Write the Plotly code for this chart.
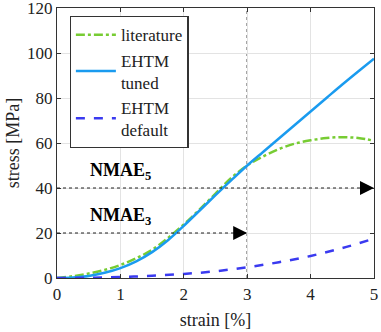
import plotly.graph_objects as go

strain = [0, 0.25, 0.5, 0.75, 1, 1.25, 1.5, 1.75, 2, 2.25, 2.5, 2.75, 3,
          3.25, 3.5, 3.75, 4, 4.25, 4.5, 4.75, 5]
literature = [0, 0.8, 2, 3.6, 5.8, 8.8, 12.5, 17.8, 23.8, 30.5, 37.5, 44.5, 50,
              54, 57.3, 59.7, 61.2, 62.2, 62.6, 62.2, 61]
ehtm_tuned = [0, 0.2, 0.9, 2.3, 4.4, 7.4, 11.5, 16.8, 23.2, 30, 36.8, 43.5, 50,
              56, 62, 68, 74, 80, 86, 91.8, 97.5]
strain_def = [0, 0.5, 1, 1.5, 2, 2.5, 3, 3.5, 4, 4.5, 5]
ehtm_default = [0, 0.1, 0.4, 1, 1.8, 3, 4.8, 7, 9.8, 13.3, 17.5]

nmae_levels = [20, 40]
nmae_ends = [3, 5]
nmae_labels = ["<b>NMAE<sub>3</sub></b>", "<b>NMAE<sub>5</sub></b>"]

FONT = "Liberation Serif"

fig = go.Figure()
fig.add_trace(go.Scatter(x=strain, y=literature, mode="lines", name="literature",
                         line=dict(color="#77cc33", width=2.5, dash="dashdot", shape="spline")))
fig.add_trace(go.Scatter(x=strain, y=ehtm_tuned, mode="lines", name="EHTM<br>tuned",
                         line=dict(color="#1a9bef", width=2.5, shape="spline")))
fig.add_trace(go.Scatter(x=strain_def, y=ehtm_default, mode="lines", name="EHTM<br>default",
                         line=dict(color="#3a3af0", width=2.5, dash="dash", shape="spline")))

# dotted vertical line at 3 %
fig.add_shape(type="line", x0=3, x1=3, y0=0, y1=120, xref="x", yref="y",
              line=dict(color="#222", width=1.2, dash="dot"), layer="below")

for lvl, end, lab in zip(nmae_levels, nmae_ends, nmae_labels):
    fig.add_shape(type="line", x0=0, x1=end, y0=lvl, y1=lvl, xref="x", yref="y",
                  line=dict(color="#222", width=1.2, dash="dot"))
    fig.add_annotation(x=end, y=lvl, ax=end - 0.2, ay=lvl, xref="x", yref="y",
                       axref="x", ayref="y", text="", showarrow=True,
                       arrowhead=2, arrowsize=1.4, arrowwidth=2, arrowcolor="black",
                       standoff=0)
    fig.add_annotation(x=1.0, y=lvl + 7.5, xref="x", yref="y", text=lab,
                       showarrow=False, font=dict(family=FONT, size=18, color="black"))

axis_common = dict(showgrid=True, gridcolor="#e3e3e3", gridwidth=1,
                   showline=True, linecolor="#333", linewidth=1.2, mirror="ticks",
                   ticks="inside", ticklen=4, tickcolor="#333", zeroline=False,
                   automargin=False, ticklabeloverflow="allow",
                   tickfont=dict(family=FONT, size=17, color="#222"))

fig.update_layout(
    width=381, height=332,
    font=dict(family=FONT, size=17, color="#222"),
    margin=dict(l=57, r=7, t=8, b=54),
    paper_bgcolor="white", plot_bgcolor="white",
    xaxis=dict(range=[0, 5], dtick=1, title=dict(text="strain [%]", standoff=10,
               font=dict(family=FONT, size=18, color="#222")), **axis_common),
    yaxis=dict(range=[0, 120], dtick=20, title=dict(text="stress [MPa]", standoff=2,
               font=dict(family=FONT, size=18, color="#222")), **axis_common),
    legend=dict(x=0.04, y=0.97, xanchor="left", yanchor="top",
                bgcolor="white", bordercolor="#333", borderwidth=1.2,
                font=dict(family=FONT, size=17, color="#222"),
                tracegroupgap=0, itemwidth=40),
    showlegend=True,
)

fig.write_html("out.html", config={"displayModeBar": False},
               post_script="document.body.style.margin='0';document.body.style.overflow='hidden';")
